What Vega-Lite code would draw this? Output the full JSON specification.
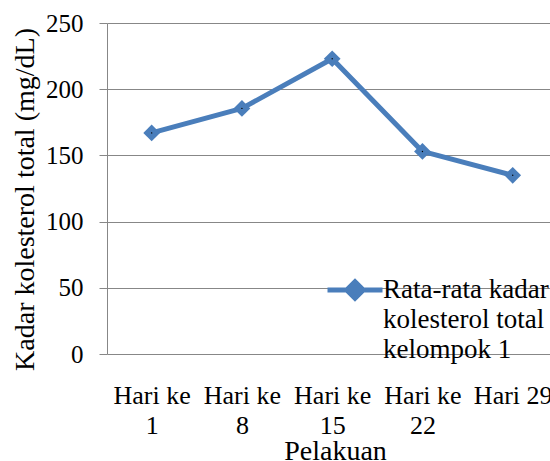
{
  "$schema": "https://vega.github.io/schema/vega-lite/v6.json",
  "width": 443,
  "height": 331,
  "autosize": {"type": "none"},
  "padding": {"left": 107, "top": 23, "right": 0, "bottom": 107},
  "config": {
    "font": "Liberation Serif",
    "view": {"stroke": null},
    "style": {"guide-label": {"lineHeight": 30}},
    "axis": {
      "labelFont": "Liberation Serif",
      "titleFont": "Liberation Serif",
      "labelFontSize": 25,
      "titleFontSize": 28,
      "titleFontWeight": "normal",
      "labelColor": "#000000",
      "titleColor": "#000000",
      "gridColor": "#878787",
      "gridOpacity": 1,
      "domainColor": "#878787",
      "tickColor": "#878787"
    },
    "legend": {
      "labelFont": "Liberation Serif",
      "labelFontSize": 27,
      "labelColor": "#000000"
    }
  },
  "data": {
    "values": [
      {"hari": "Hari ke 1", "kolesterol": 167, "seri": "Rata-rata kadar kolesterol total kelompok 1"},
      {"hari": "Hari ke 8", "kolesterol": 185.5, "seri": "Rata-rata kadar kolesterol total kelompok 1"},
      {"hari": "Hari ke 15", "kolesterol": 223, "seri": "Rata-rata kadar kolesterol total kelompok 1"},
      {"hari": "Hari ke 22", "kolesterol": 153, "seri": "Rata-rata kadar kolesterol total kelompok 1"},
      {"hari": "Hari 29", "kolesterol": 135, "seri": "Rata-rata kadar kolesterol total kelompok 1"}
    ]
  },
  "encoding": {
    "x": {
      "field": "hari",
      "type": "ordinal",
      "sort": null,
      "scale": {"type": "point", "padding": 0.454, "align": 0.545},
      "axis": {
        "title": "Pelakuan",
        "titleBaseline": "alphabetic",
        "titleX": 228,
        "titleY": 105,
        "labelFontSize": 26,
        "labelAngle": 0,
        "labelPadding": 28,
        "labelLineHeight": 30,
        "labelLimit": 300,
        "labelOverlap": false,
        "labelBound": false,
        "ticks": false,
        "domain": false,
        "grid": false,
        "labelExpr": "indexof(datum.label, 'ke ') > 0 ? ['Hari ke', replace(datum.label, 'Hari ke ', '')] : datum.label"
      }
    },
    "y": {
      "field": "kolesterol",
      "type": "quantitative",
      "scale": {"domain": [0, 250], "nice": false, "zero": true},
      "axis": {
        "title": "Kadar kolesterol total (mg/dL)",
        "titleBaseline": "alphabetic",
        "titleAngle": 270,
        "titleX": -74,
        "titleY": 176,
        "values": [0, 50, 100, 150, 200, 250],
        "labelPadding": 16,
        "tickSize": 8,
        "grid": true,
        "domain": true
      }
    }
  },
  "layer": [
    {
      "mark": {"type": "line", "strokeWidth": 5, "strokeJoin": "round"},
      "encoding": {
        "color": {
          "field": "seri",
          "type": "nominal",
          "scale": {"range": ["#4a7ebb"]},
          "legend": {
            "title": null,
            "orient": "none",
            "legendX": 218,
            "legendY": 237,
            "padding": 0,
            "symbolType": "M-1,0H1M0,-0.3L0.3,0L0,0.3L-0.3,0Z",
            "symbolSize": 3025,
            "symbolStrokeWidth": 5,
            "symbolFillColor": "#4a7ebb",
            "symbolStrokeColor": "#4a7ebb",
            "labelOffset": -2,
            "labelLimit": 300,
            "labelExpr": "[slice(datum.label, 0, 15), slice(datum.label, 16, 32), slice(datum.label, 33)]"
          }
        }
      }
    },
    {
      "mark": {"type": "point", "shape": "diamond", "filled": true, "size": 280, "opacity": 1, "color": "#4a7ebb"}
    },
    {
      "mark": {"type": "point", "shape": "circle", "filled": true, "size": 2, "opacity": 1, "color": "#000000"}
    }
  ]
}
